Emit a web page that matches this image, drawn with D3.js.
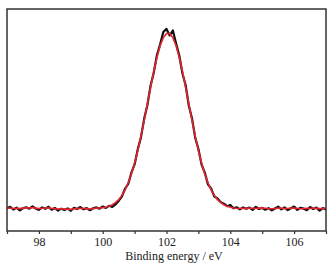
<!DOCTYPE html>
<html><head><meta charset="utf-8">
<script src="https://cdn.jsdelivr.net/npm/d3@7"></script>
<style>body{margin:0;background:#fff}svg{display:block}</style>
</head><body>
<script>
// Binding energy grid (eV), 0.1 eV step
const energyStart = 97.0, energyStep = 0.1, energyCount = 101;
const energy = d3.range(energyCount).map(i => +(energyStart + i * energyStep).toFixed(1));

// Measured spectrum (black), arbitrary intensity units
const measured = [
  0.5, 1.2, -0.3, 0.8, -0.8, 0.4, 1.0, 0.2, 1.5, 0.3,
  -0.5, 0.9, 0.1, 1.3, -0.4, 0.6, -0.9, 0.2, -0.6, 0.3,
  -1.0, 0.7, 0.0, 1.1, -0.2, 0.5, -0.7, 0.4, 0.9, 0.2,
  1.4, 0.6, 1.8, 1.2, 2.6, 4.6, 7.0, 11.5, 14.2, 20.6,
  25.3, 34.0, 40.8, 51.2, 58.9, 70.0, 77.4, 87.3, 93.5, 100.5,
  102.3, 98.6, 101.4, 94.0, 87.2, 77.0, 70.3, 58.6, 51.4, 40.5,
  34.1, 25.2, 20.7, 14.0, 11.6, 7.1, 6.0, 3.9, 3.0, 1.6,
  2.3, 0.4, 1.0, -0.2, 0.9, 0.1, 0.8, -0.5, 1.2, 0.0,
  0.6, -0.4, 0.5, -0.8, 0.3, 1.3, -0.2, 0.9, -0.6, 0.4,
  1.4, -0.5, 0.7, 0.2, -0.7, 1.1, 0.0, 0.8, -0.9, 0.5,
  -0.3
];

// Fitted envelope (red)
const fitted = [
  0.4, 0.6, 0.3, 0.4, 0.2, 0.5, 0.7, 0.6, 0.8, 0.5,
  0.2, 0.4, 0.5, 0.7, 0.3, 0.2, 0.0, 0.1, -0.1, 0.0,
  -0.2, 0.1, 0.2, 0.4, 0.3, 0.2, 0.0, 0.2, 0.5, 0.6,
  0.8, 1.0, 1.5, 2.4, 3.6, 5.3, 7.7, 10.8, 14.9, 19.9,
  26.0, 33.2, 41.4, 50.3, 59.7, 69.1, 78.1, 86.1, 92.7, 97.3,
  99.7, 99.7, 97.3, 92.7, 86.1, 78.1, 69.1, 59.7, 50.3, 41.4,
  33.2, 26.0, 19.9, 14.9, 10.8, 7.7, 5.3, 3.6, 2.4, 1.5,
  1.0, 0.6, 0.4, 0.3, 0.4, 0.3, 0.5, 0.4, 0.3, 0.5,
  0.6, 0.4, 0.2, 0.1, 0.3, 0.5, 0.4, 0.2, 0.3, 0.6,
  0.5, 0.3, 0.1, 0.2, 0.4, 0.3, 0.5, 0.4, 0.2, 0.3,
  0.4
];

const majorTicks = [98, 100, 102, 104, 106];
const minorTicks = [97, 99, 101, 103, 105, 107];
const xDomain = [97, 107];
const yDomain = [-12.5, 113.6];
const xTitle = "Binding energy / eV";

const W = 332, H = 266;
const m = {left: 7, right: 6, top: 9, bottom: 35};

const svg = d3.select("body").append("svg").attr("width", W).attr("height", H);
const x = d3.scaleLinear().domain(xDomain).range([m.left, W - m.right]);
const y = d3.scaleLinear().domain(yDomain).range([H - m.bottom, m.top]);

svg.append("clipPath").attr("id", "c").append("rect")
  .attr("x", m.left).attr("y", m.top).attr("width", W - m.left - m.right).attr("height", H - m.top - m.bottom);

const g = svg.append("g").attr("clip-path", "url(#c)");
const line = arr => d3.line().x((d, i) => x(energy[i])).y(d => y(d))(arr);

g.append("path").attr("d", line(measured)).attr("fill", "none")
  .attr("stroke", "#111").attr("stroke-width", 2.2).attr("stroke-linejoin", "round");
g.append("path").attr("d", line(fitted)).attr("fill", "none")
  .attr("stroke", "#e8252f").attr("stroke-width", 1.6).attr("stroke-linejoin", "round");

// frame
svg.append("rect").attr("x", m.left).attr("y", m.top)
  .attr("width", W - m.left - m.right).attr("height", H - m.top - m.bottom)
  .attr("fill", "none").attr("stroke", "#333").attr("stroke-width", 1.5);

const ax = svg.append("g").attr("transform", `translate(0,${H - m.bottom})`)
  .call(d3.axisBottom(x).tickValues(majorTicks).tickSize(3).tickPadding(3.5).tickFormat(d3.format("d")));
ax.select(".domain").remove();
ax.selectAll("line").attr("stroke", "#333").attr("stroke-width", 1.2);
ax.selectAll("text").attr("font-family", "Liberation Serif").attr("font-size", 12).attr("fill", "#222");

const axm = svg.append("g").attr("transform", `translate(0,${H - m.bottom})`)
  .call(d3.axisBottom(x).tickValues(minorTicks).tickSize(3).tickFormat(""));
axm.select(".domain").remove();
axm.selectAll("line").attr("stroke", "#333").attr("stroke-width", 1.2);

svg.append("text").attr("x", 174).attr("y", 260)
  .attr("text-anchor", "middle").attr("font-family", "Liberation Serif")
  .attr("font-size", 12).attr("fill", "#222").text(xTitle);
</script>
</body></html>
